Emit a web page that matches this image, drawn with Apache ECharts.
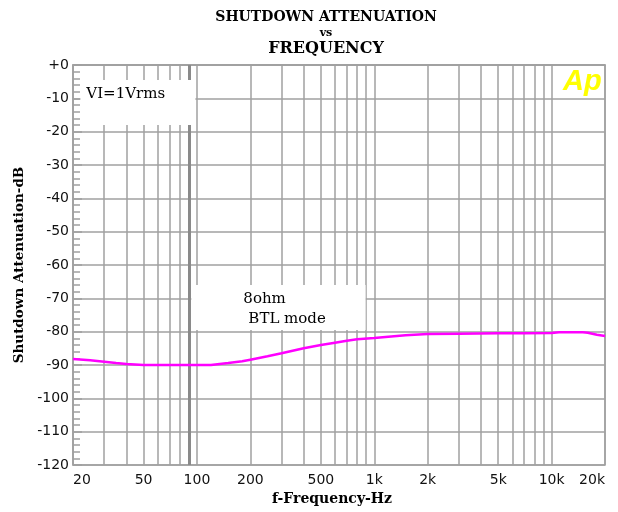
<!DOCTYPE html>
<html><head><meta charset="utf-8">
<script src="https://cdn.jsdelivr.net/npm/echarts@6/dist/echarts.min.js"></script>
<style>html,body{margin:0;padding:0;background:#fff}#c{width:618px;height:512px}</style>
</head><body><div id="c"></div>
<script>
// Data
const frequencyHz = [20, 25, 30, 35, 40, 50, 60, 70, 80, 100, 120, 150, 180, 200, 250, 300, 400, 500, 600, 700, 800, 1000, 1200, 1500, 2000, 3000, 5000, 7000, 10000, 11000, 15000, 16000, 18000, 20000];
const attenuationDb = [-88.2, -88.6, -89.0, -89.4, -89.7, -90.0, -90.0, -90.0, -90.0, -90.0, -90.0, -89.4, -88.9, -88.4, -87.4, -86.5, -85.0, -84.0, -83.3, -82.7, -82.3, -81.9, -81.5, -81.1, -80.7, -80.6, -80.5, -80.5, -80.4, -80.2, -80.2, -80.3, -80.9, -81.3];
const gridFrequencies = [20, 30, 40, 50, 60, 70, 80, 90, 100, 200, 300, 400, 500, 600, 700, 800, 900, 1000, 2000, 3000, 4000, 5000, 6000, 7000, 8000, 9000, 10000, 20000];
const xTickValues = [20, 50, 100, 200, 500, 1000, 2000, 5000, 10000, 20000];
const xTickLabels = ['20', '50', '100', '200', '500', '1k', '2k', '5k', '10k', '20k'];
const yTickLabels = ['+0', '-10', '-20', '-30', '-40', '-50', '-60', '-70', '-80', '-90', '-100', '-110', '-120'];
const titleLines = ['SHUTDOWN ATTENUATION', 'vs', 'FREQUENCY'];
const noteTopLeft = 'VI=1Vrms';
const noteMiddle = ['8ohm', 'BTL mode'];

const chart = echarts.init(document.getElementById('c'), null, {renderer: 'canvas'});
const gridColor = '#a0a0a0';
const serif = '"DejaVu Serif"';
const sans = '"DejaVu Sans"';

const option = {
  animation: false,
  backgroundColor: '#fff',
  grid: {left: 73, right: 13, top: 65, bottom: 47, show: true, borderColor: gridColor, borderWidth: 1.5, backgroundColor: '#fff'},
  graphic: [
    {type: 'text', x: 326, y: 7, z: 10, style: {
      text: '{a|' + titleLines[0] + '}\n{b|' + titleLines[1] + '}\n{c|' + titleLines[2] + '}',
      align: 'center', fill: '#000',
      rich: {
        a: {fontFamily: serif, fontWeight: 'bold', fontSize: 14, lineHeight: 20, align: 'center'},
        b: {fontFamily: serif, fontWeight: 'bold', fontSize: 11, lineHeight: 13, align: 'center'},
        c: {fontFamily: serif, fontWeight: 'bold', fontSize: 16, lineHeight: 18, align: 'center'}
      }
    }},
    {type: 'text', x: 563, y: 67, z: 10, style: {
      text: 'Ap', fill: '#ffff00', font: 'italic bold 29px "Liberation Sans"', verticalAlign: 'top'
    }}
  ],
  xAxis: {
    type: 'log', logBase: 10, min: 20, max: 20000,
    name: 'f-Frequency-Hz', nameLocation: 'middle', nameGap: 24,
    nameTextStyle: {fontFamily: serif, fontWeight: 'bold', fontSize: 14, color: '#000', padding: [0, 14, 0, 0]},
    axisLine: {show: true, lineStyle: {color: gridColor, width: 1.5}},
    axisTick: {show: false, customValues: gridFrequencies},
    axisLabel: {
      customValues: xTickValues, margin: 8, color: '#111', fontFamily: sans, fontSize: 14,
      alignMinLabel: 'left', alignMaxLabel: 'right',
      formatter: v => { const i = xTickValues.findIndex(t => Math.abs(t - v) < 1e-6 * t); return i >= 0 ? xTickLabels[i] : ''; }
    },
    splitLine: {show: true, lineStyle: {color: gridColor, width: 1.5}},
    minorTick: {show: false}
  },
  yAxis: {
    type: 'value', min: -120, max: 0, interval: 10,
    name: 'Shutdown Attenuation-dB', nameLocation: 'middle', nameGap: 41,
    nameTextStyle: {fontFamily: serif, fontWeight: 'bold', fontSize: 13.5, color: '#000'},
    axisLine: {show: true, lineStyle: {color: gridColor, width: 1.5}},
    axisTick: {show: true, inside: true, length: 9, lineStyle: {color: gridColor, width: 1.5}},
    minorTick: {show: true, splitNumber: 5, length: 7, lineStyle: {color: gridColor, width: 1.5}},
    axisLabel: {margin: 4, color: '#111', fontFamily: sans, fontSize: 14,
      formatter: v => yTickLabels[Math.round(-v / 10)]},
    splitLine: {show: true, lineStyle: {color: gridColor, width: 1.5}}
  },
  series: [
    {
      type: 'line', data: [], z: 2, silent: true,
      markLine: {silent: true, z: 1, symbol: 'none', label: {show: false},
        lineStyle: {color: '#8a8a8a', width: 3, type: 'solid'},
        data: [{xAxis: 90}]}
    },
    {
      type: 'line', data: [], z: 3, silent: true,
      markArea: {silent: true, z: 3, itemStyle: {color: '#fff'},
        data: [
          [{xAxis: 22, yAxis: -4.5, label: {show: true, position: 'insideTopLeft', distance: 0, offset: [6, 7],
             formatter: noteTopLeft, fontFamily: serif, fontSize: 15, color: '#000'}},
           {xAxis: 98, yAxis: -18}],
          [{xAxis: 93, yAxis: -66, label: {show: true, position: 'insideTopLeft', distance: 0, offset: [52, 4],
             formatter: '{a|' + noteMiddle[0] + '}\n{b|' + noteMiddle[1] + '}',
             rich: {a: {fontFamily: serif, fontSize: 15, lineHeight: 20, color: '#000'},
                    b: {fontFamily: serif, fontSize: 15, lineHeight: 20, color: '#000', padding: [0, 0, 0, 5]}}}},
           {xAxis: 893, yAxis: -79.5}]
        ]}
    },
    {
      type: 'line', z: 4, silent: true, symbol: 'none', smooth: false,
      lineStyle: {color: '#ff00ff', width: 2.5},
      data: frequencyHz.map((f, i) => [f, attenuationDb[i]])
    }
  ]
};
chart.setOption(option);
</script>
</body></html>
